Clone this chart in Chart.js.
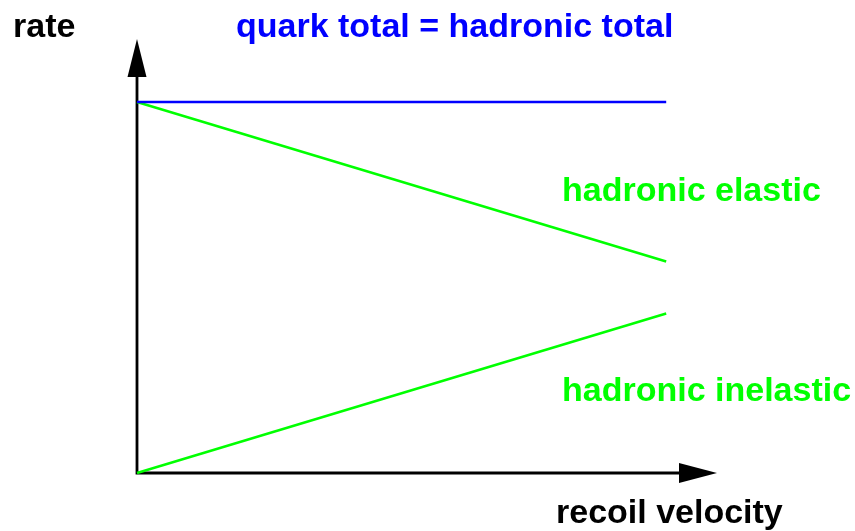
<!DOCTYPE html>
<html>
<head>
<meta charset="utf-8">
<script src="https://cdn.jsdelivr.net/npm/chart.js@4/dist/chart.umd.min.js"></script>
<style>
  html, body { margin: 0; padding: 0; background: #fff; }
  canvas { display: block; }
</style>
</head>
<body>
<canvas id="rateChart" width="855" height="531"></canvas>
<script>
// recoil velocity (arbitrary units) and the rates at both ends
const velocity = [0, 1];
const quarkTotal = [1, 1];
const hadronicElastic = [1, 0.57];
const hadronicInelastic = [0, 0.43];

const axisTitleX = "recoil velocity";
const axisTitleY = "rate";
const totalLabel = "quark total = hadronic total";
const elasticLabel = "hadronic elastic";
const inelasticLabel = "hadronic inelastic";

const BLUE = "#0000ff";
const GREEN = "#00ff00";
const FONT = "bold 34px 'Liberation Sans', Arial, Helvetica, sans-serif";

function toPoints(ys) {
  return velocity.map((v, i) => ({ x: v, y: ys[i] }));
}

// arrows for the axes, drawn under the data lines
const arrowAxes = {
  id: "arrowAxes",
  beforeDatasetsDraw(chart) {
    const { ctx, chartArea: a } = chart;
    ctx.save();
    ctx.strokeStyle = "#000";
    ctx.fillStyle = "#000";
    ctx.lineWidth = 2.8;
    ctx.beginPath();
    ctx.moveTo(a.left, a.top + 30);
    ctx.lineTo(a.left, a.bottom);
    ctx.lineTo(a.right - 30, a.bottom);
    ctx.stroke();
    // y arrow
    ctx.beginPath();
    ctx.moveTo(a.left, a.top);
    ctx.lineTo(a.left - 9.5, a.top + 38);
    ctx.lineTo(a.left + 9.5, a.top + 38);
    ctx.closePath();
    ctx.fill();
    // x arrow
    ctx.beginPath();
    ctx.moveTo(a.right, a.bottom);
    ctx.lineTo(a.right - 38, a.bottom - 10);
    ctx.lineTo(a.right - 38, a.bottom + 10);
    ctx.closePath();
    ctx.fill();
    ctx.restore();
  },
  afterDraw(chart) {
    const { ctx, chartArea: a } = chart;
    ctx.save();
    ctx.font = FONT;
    ctx.textBaseline = "alphabetic";
    ctx.textAlign = "left";
    ctx.fillStyle = "#000";
    ctx.fillText(axisTitleY, a.left - 124, a.top - 2);
    ctx.fillText(axisTitleX, a.left + 419, a.bottom + 50);
    ctx.fillStyle = BLUE;
    ctx.fillText(totalLabel, a.left + 99, a.top - 2);
    ctx.fillStyle = GREEN;
    ctx.fillText(elasticLabel, a.left + 425, a.top + 162);
    ctx.fillText(inelasticLabel, a.left + 425, a.top + 362);
    ctx.restore();
  }
};

new Chart(document.getElementById("rateChart"), {
  type: "line",
  data: {
    datasets: [
      { label: totalLabel, data: toPoints(quarkTotal), borderColor: BLUE },
      { label: elasticLabel, data: toPoints(hadronicElastic), borderColor: GREEN },
      { label: inelasticLabel, data: toPoints(hadronicInelastic), borderColor: GREEN }
    ]
  },
  options: {
    responsive: false,
    animation: false,
    layout: { padding: { left: 137, right: 138, top: 39, bottom: 58 } },
    elements: {
      line: { borderWidth: 2.5, tension: 0 },
      point: { radius: 0 }
    },
    datasets: { line: { clip: false } },
    plugins: { legend: { display: false }, tooltip: { enabled: false } },
    scales: {
      x: { type: "linear", min: 0, max: 1.096, display: false },
      y: { type: "linear", min: 0, max: 1.17, display: false }
    }
  },
  plugins: [arrowAxes]
});
</script>
</body>
</html>
